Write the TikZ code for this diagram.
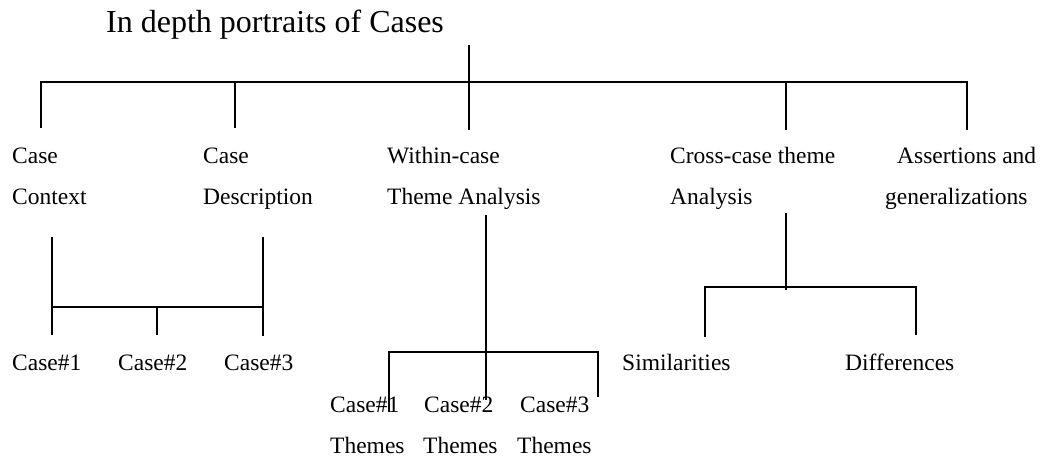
\documentclass[tikz,border=0pt]{standalone}
\usepackage{fontspec}
\setmainfont{Liberation Serif}
\begin{document}
\begin{tikzpicture}[x=1pt,y=-1pt,
  lbl/.style={anchor=base west,inner sep=0pt,font=\fontsize{23.5}{28}\selectfont},
  ttl/.style={anchor=base west,inner sep=0pt,font=\fontsize{32}{38}\selectfont},
  ln/.style={line width=1.5pt}]
\useasboundingbox (0,0) rectangle (1047,459);
% title
\node[ttl] (title) at (106,32) {In depth portraits of Cases};
% level 1 labels
\node[lbl] (ctxA) at (12,163) {Case};
\node[lbl] (ctxB) at (12,204) {Context};
\node[lbl] (desA) at (203,163) {Case};
\node[lbl] (desB) at (203,204) {Description};
\node[lbl] (winA) at (387,163) {Within-case};
\node[lbl] (winB) at (387,204) {Theme Analysis};
\node[lbl] (crsA) at (670,163) {Cross-case theme};
\node[lbl] (crsB) at (670,204) {Analysis};
\node[lbl] (aslA) at (897,163) {Assertions and};
\node[lbl] (aslB) at (885,204) {generalizations};
% level 2 labels
\node[lbl] (c1) at (12,370) {Case\#1};
\node[lbl] (c2) at (118,370) {Case\#2};
\node[lbl] (c3) at (224,370) {Case\#3};
\node[lbl] (t1a) at (330,412) {Case\#1};
\node[lbl] (t2a) at (424,412) {Case\#2};
\node[lbl] (t3a) at (520,412) {Case\#3};
\node[lbl] (t1b) at (330,453) {Themes};
\node[lbl] (t2b) at (423,453) {Themes};
\node[lbl] (t3b) at (517,453) {Themes};
\node[lbl] (sim) at (622,370) {Similarities};
\node[lbl] (dif) at (845,370) {Differences};
% main tree coordinates
\coordinate (top) at (469,45);
\coordinate (hub) at (469,82);
\coordinate (hL) at (41,82);
\coordinate (hD) at (235,82);
\coordinate (hC) at (786,82);
\coordinate (hR) at (967,82);
\coordinate (d1) at (41,128);
\coordinate (d2) at (235,128);
\coordinate (d3) at (469,130);
\coordinate (d4) at (786,130);
\coordinate (d5) at (967,130);
\draw[ln] (top) -- (d3);
\draw[ln] (d1) -- (hL) -- (hR) -- (d5);
\draw[ln] (hD) -- (d2);
\draw[ln] (hC) -- (d4);
% subtree: context / description -> cases
\coordinate (a1) at (52,237);
\coordinate (a1b) at (52,335);
\coordinate (a3) at (263,237);
\coordinate (a3b) at (263,336);
\coordinate (aL) at (52,307);
\coordinate (aR) at (263,307);
\coordinate (aM) at (157,307);
\coordinate (aMb) at (157,335);
\draw[ln] (a1) -- (a1b);
\draw[ln] (a3) -- (a3b);
\draw[ln] (aL) -- (aR);
\draw[ln] (aM) -- (aMb);
% subtree: within-case -> themes
\coordinate (wT) at (486,215);
\coordinate (wB) at (486,400);
\coordinate (wL) at (389,352);
\coordinate (wR) at (598,352);
\coordinate (wLb) at (389,412);
\coordinate (wRb) at (598,397);
\draw[ln] (wT) -- (wB);
\draw[ln] (wLb) -- (wL) -- (wR) -- (wRb);
% subtree: cross-case -> similarities / differences
\coordinate (xT) at (786,213);
\coordinate (xB) at (786,290);
\coordinate (xL) at (705,287);
\coordinate (xR) at (916,287);
\coordinate (xLb) at (705,337);
\coordinate (xRb) at (916,335);
\draw[ln] (xT) -- (xB);
\draw[ln] (xLb) -- (xL) -- (xR) -- (xRb);
\end{tikzpicture}
\end{document}
